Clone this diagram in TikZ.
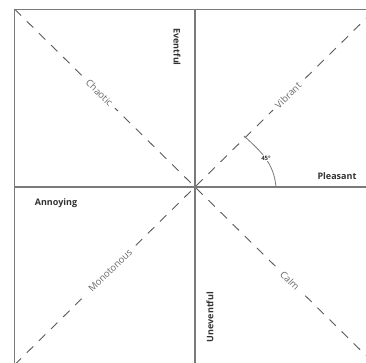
\documentclass[tikz,border=0pt]{standalone}
\usepackage{fontspec}
\setmainfont{Open Sans}
\definecolor{axisgray}{HTML}{7A7A7A}
\definecolor{dashgray}{HTML}{5A5A5A}
\definecolor{labeldark}{HTML}{333333}
\definecolor{labellight}{HTML}{6A6A6A}
\begin{document}
\begin{tikzpicture}[x=1pt,y=-1pt,
  axisline/.style={draw=axisgray,line width=1.1pt},
  diagline/.style={draw=dashgray,line width=0.9pt,dash pattern=on 9pt off 8pt},
  axislabel/.style={font=\fontsize{9}{11}\selectfont\bfseries,text=labeldark,inner sep=1pt},
  diaglabel/.style={font=\fontsize{9.5}{11}\selectfont,text=labellight,fill=white,inner xsep=5pt,inner ysep=1pt,sloped},
  anglelabel/.style={font=\fontsize{6}{7}\selectfont\bfseries,text=labeldark,fill=white,inner sep=1pt}]
\useasboundingbox (0,0) rectangle (366,363);
\begin{scope}
\clip (0,0) rectangle (366,363);
\coordinate (TL) at (14.7,9.3);
\coordinate (TR) at (375.3,9.3);
\coordinate (BL) at (14.7,364.7);
\coordinate (BR) at (375.3,364.7);
\coordinate (C) at (195,187);
\coordinate (T) at (195,9.3);
\coordinate (B) at (195,364.7);
\coordinate (L) at (14.7,187);
\coordinate (R) at (375.3,187);
% diagonals
\draw[diagline] (TL) -- (BR)
  node[diaglabel,pos=0.235] (chaotic) {Chaotic}
  node[diaglabel,pos=0.763] (calm) {Calm};
\draw[diagline] (BL) -- (TR)
  node[diaglabel,pos=0.265] (mono) {Monotonous}
  node[diaglabel,pos=0.758] (vibrant) {Vibrant};
% frame and axes
\draw[axisline] (BL) -- (TL) -- (TR);
\draw[axisline] (T) -- (B);
\draw[axisline] (L) -- (R);
% angle arc
\coordinate (A1) at (244,136);
\coordinate (A2) at (276,187);
\draw[draw=axisgray,line width=0.8pt] (A1) to[out=-42,in=95] (A2);
\node[anglelabel] (ang) at (266,158) {45°};
% axis labels
\node[axislabel,rotate=-90] (eventful) at (177,47) {Eventful};
\node[axislabel,rotate=90] (uneventful) at (210,317) {Uneventful};
\node[axislabel] (pleasant) at (337,176) {Pleasant};
\node[axislabel] (annoying) at (56,203) {Annoying};
\end{scope}
\end{tikzpicture}
\end{document}
